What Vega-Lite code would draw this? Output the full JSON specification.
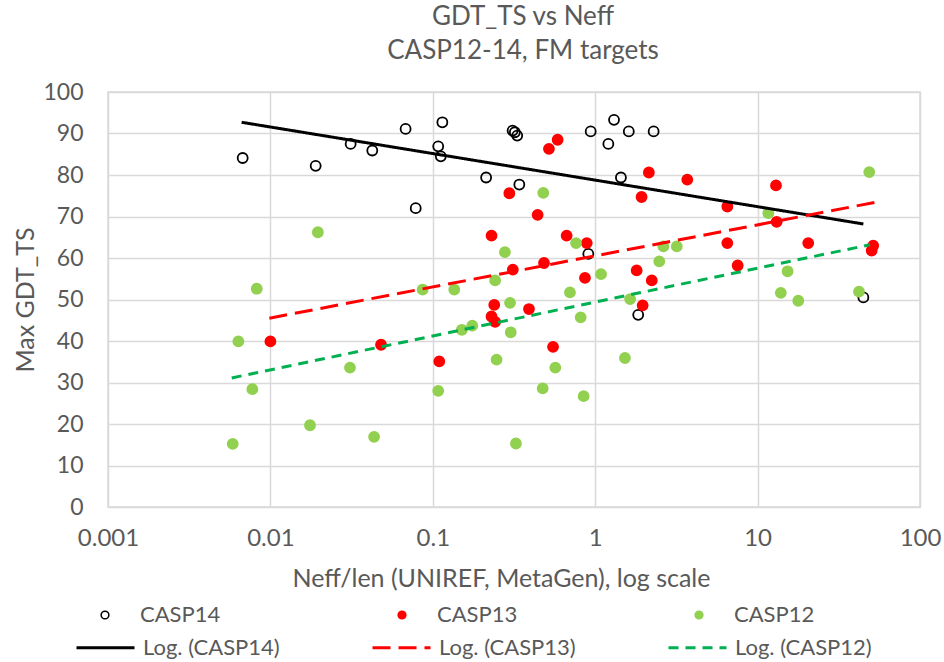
{
  "$schema": "https://vega.github.io/schema/vega-lite/v6.json",
  "width": 812,
  "height": 415,
  "autosize": {"type": "none"},
  "padding": {"left": 108, "top": 92, "right": 24, "bottom": 155},
  "background": "white",
  "config": {
    "font": "Lato",
    "view": {"stroke": "#d9d9d9", "strokeWidth": 1.5},
    "axis": {
      "labelFont": "Lato", "titleFont": "Lato",
      "labelColor": "#595959", "titleColor": "#595959",
      "labelFontSize": 23, "titleFontSize": 25, "titleFontWeight": "normal",
      "domain": false, "ticks": false, "labelFlush": false,
      "gridColor": "#d9d9d9", "gridWidth": 1.5
    },
    "legend": {"labelFont": "Lato", "labelColor": "#595959", "labelFontSize": 22}
  },
  "title": {
    "text": ["GDT_TS vs Neff", "CASP12-14, FM targets"],
    "fontSize": 26, "fontWeight": "normal", "color": "#595959",
    "lineHeight": 34, "offset": 17, "anchor": "middle", "frame": "group", "dx": 9
  },
  "datasets": {
    "pts": [
      {"s": "CASP14", "x": 0.00675, "y": 84.1},
      {"s": "CASP14", "x": 0.019, "y": 82.2},
      {"s": "CASP14", "x": 0.0312, "y": 87.5},
      {"s": "CASP14", "x": 0.0424, "y": 85.9},
      {"s": "CASP14", "x": 0.068, "y": 91.1},
      {"s": "CASP14", "x": 0.1145, "y": 92.7},
      {"s": "CASP14", "x": 0.108, "y": 86.9},
      {"s": "CASP14", "x": 0.112, "y": 84.5},
      {"s": "CASP14", "x": 0.0785, "y": 72.0},
      {"s": "CASP14", "x": 0.213, "y": 79.4},
      {"s": "CASP14", "x": 0.31, "y": 90.7},
      {"s": "CASP14", "x": 0.32, "y": 90.3},
      {"s": "CASP14", "x": 0.331, "y": 89.5},
      {"s": "CASP14", "x": 0.341, "y": 77.7},
      {"s": "CASP14", "x": 0.938, "y": 90.5},
      {"s": "CASP14", "x": 1.306, "y": 93.3},
      {"s": "CASP14", "x": 1.205, "y": 87.5},
      {"s": "CASP14", "x": 1.61, "y": 90.5},
      {"s": "CASP14", "x": 2.29, "y": 90.5},
      {"s": "CASP14", "x": 1.44, "y": 79.4},
      {"s": "CASP14", "x": 0.907, "y": 61.0},
      {"s": "CASP14", "x": 1.84, "y": 46.3},
      {"s": "CASP14", "x": 44.8, "y": 50.5},
      {"s": "CASP13", "x": 0.587, "y": 88.5},
      {"s": "CASP13", "x": 0.519, "y": 86.3},
      {"s": "CASP13", "x": 2.14, "y": 80.6},
      {"s": "CASP13", "x": 3.69, "y": 78.9},
      {"s": "CASP13", "x": 0.296, "y": 75.6},
      {"s": "CASP13", "x": 1.93, "y": 74.7},
      {"s": "CASP13", "x": 0.442, "y": 70.4},
      {"s": "CASP13", "x": 0.23, "y": 65.4},
      {"s": "CASP13", "x": 0.667, "y": 65.4},
      {"s": "CASP13", "x": 0.887, "y": 63.6},
      {"s": "CASP13", "x": 0.484, "y": 58.8},
      {"s": "CASP13", "x": 0.311, "y": 57.2},
      {"s": "CASP13", "x": 1.8, "y": 57.0},
      {"s": "CASP13", "x": 0.865, "y": 55.2},
      {"s": "CASP13", "x": 2.23, "y": 54.6},
      {"s": "CASP13", "x": 6.51, "y": 72.4},
      {"s": "CASP13", "x": 12.98, "y": 77.5},
      {"s": "CASP13", "x": 13.1, "y": 68.7},
      {"s": "CASP13", "x": 6.51, "y": 63.6},
      {"s": "CASP13", "x": 20.5, "y": 63.6},
      {"s": "CASP13", "x": 7.54, "y": 58.2},
      {"s": "CASP13", "x": 51.5, "y": 63.0},
      {"s": "CASP13", "x": 50.4, "y": 61.8},
      {"s": "CASP13", "x": 0.239, "y": 48.7},
      {"s": "CASP13", "x": 0.23, "y": 45.9},
      {"s": "CASP13", "x": 0.242, "y": 44.6},
      {"s": "CASP13", "x": 0.391, "y": 47.7},
      {"s": "CASP13", "x": 0.55, "y": 38.6},
      {"s": "CASP13", "x": 1.96, "y": 48.6},
      {"s": "CASP13", "x": 0.01, "y": 39.9},
      {"s": "CASP13", "x": 0.048, "y": 39.1},
      {"s": "CASP13", "x": 0.1096, "y": 35.1},
      {"s": "CASP12", "x": 0.0196, "y": 66.2},
      {"s": "CASP12", "x": 0.00824, "y": 52.6},
      {"s": "CASP12", "x": 0.0866, "y": 52.4},
      {"s": "CASP12", "x": 0.1356, "y": 52.4},
      {"s": "CASP12", "x": 0.00635, "y": 39.9},
      {"s": "CASP12", "x": 0.00774, "y": 28.4},
      {"s": "CASP12", "x": 0.00586, "y": 15.2},
      {"s": "CASP12", "x": 0.01753, "y": 19.7},
      {"s": "CASP12", "x": 0.0309, "y": 33.6},
      {"s": "CASP12", "x": 0.0435, "y": 16.9},
      {"s": "CASP12", "x": 0.108, "y": 28.0},
      {"s": "CASP12", "x": 0.151, "y": 42.7},
      {"s": "CASP12", "x": 0.175, "y": 43.7},
      {"s": "CASP12", "x": 0.479, "y": 75.7},
      {"s": "CASP12", "x": 0.278, "y": 61.4},
      {"s": "CASP12", "x": 0.762, "y": 63.6},
      {"s": "CASP12", "x": 2.63, "y": 62.8},
      {"s": "CASP12", "x": 3.18, "y": 62.8},
      {"s": "CASP12", "x": 2.48, "y": 59.2},
      {"s": "CASP12", "x": 0.242, "y": 54.6},
      {"s": "CASP12", "x": 1.086, "y": 56.1},
      {"s": "CASP12", "x": 0.699, "y": 51.7},
      {"s": "CASP12", "x": 0.299, "y": 49.2},
      {"s": "CASP12", "x": 0.302, "y": 42.1},
      {"s": "CASP12", "x": 0.247, "y": 35.5},
      {"s": "CASP12", "x": 0.814, "y": 45.7},
      {"s": "CASP12", "x": 0.568, "y": 33.6},
      {"s": "CASP12", "x": 0.475, "y": 28.6},
      {"s": "CASP12", "x": 0.849, "y": 26.7},
      {"s": "CASP12", "x": 0.325, "y": 15.3},
      {"s": "CASP12", "x": 1.525, "y": 35.9},
      {"s": "CASP12", "x": 1.64, "y": 50.1},
      {"s": "CASP12", "x": 48.7, "y": 80.7},
      {"s": "CASP12", "x": 11.64, "y": 70.8},
      {"s": "CASP12", "x": 15.3, "y": 56.8},
      {"s": "CASP12", "x": 13.9, "y": 51.6},
      {"s": "CASP12", "x": 17.8, "y": 49.7},
      {"s": "CASP12", "x": 42.1, "y": 51.9}
    ],
    "trend": [
      {"t": "Log. (CASP14)", "x": 0.00665, "y": 92.7},
      {"t": "Log. (CASP14)", "x": 44.8, "y": 68.2},
      {"t": "Log. (CASP13)", "x": 0.00985, "y": 45.5},
      {"t": "Log. (CASP13)", "x": 52.8, "y": 73.4},
      {"t": "Log. (CASP12)", "x": 0.00578, "y": 31.1},
      {"t": "Log. (CASP12)", "x": 49.2, "y": 63.2}
    ]
  },
  "layer": [
    {
      "data": {"name": "pts"},
      "mark": {"type": "point", "shape": "circle", "size": 100, "strokeWidth": 1.8, "opacity": 1},
      "encoding": {
        "x": {
          "field": "x", "type": "quantitative",
          "scale": {"type": "log", "domain": [0.001, 100], "nice": false},
          "axis": {"values": [0.001, 0.01, 0.1, 1, 10, 100], "format": "~g", "grid": true, "labelFontSize": 24, "labelPadding": 19, "titlePadding": 16, "titleX": 393, "titleAlign": "center"},
          "title": "Neff/len (UNIREF, MetaGen), log scale"
        },
        "y": {
          "field": "y", "type": "quantitative",
          "scale": {"domain": [0, 100], "nice": false},
          "axis": {"values": [0, 10, 20, 30, 40, 50, 60, 70, 80, 90, 100], "grid": true, "labelPadding": 25, "titlePadding": 4},
          "title": "Max GDT_TS"
        },
        "stroke": {
          "field": "s", "type": "nominal",
          "scale": {"domain": ["CASP14", "CASP13", "CASP12"], "range": ["#000000", "#ff0000", "#92d050"]},
          "legend": {"title": null, "orient": "none", "legendX": -14, "legendY": 512, "direction": "horizontal", "columns": 3, "columnPadding": 170, "symbolSize": 60, "symbolStrokeWidth": 1.5, "labelOffset": 24, "padding": 0}
        },
        "fill": {
          "field": "s", "type": "nominal",
          "scale": {"domain": ["CASP14", "CASP13", "CASP12"], "range": ["rgba(255,255,255,0)", "#ff0000", "#92d050"]},
          "legend": {"title": null, "orient": "none", "legendX": -14, "legendY": 512, "direction": "horizontal", "columns": 3, "columnPadding": 170, "symbolSize": 60, "symbolStrokeWidth": 1.5, "labelOffset": 24, "padding": 0}
        }
      }
    },
    {
      "data": {"name": "trend"},
      "mark": {"type": "line", "strokeWidth": 3, "strokeCap": "butt"},
      "encoding": {
        "x": {"field": "x", "type": "quantitative"},
        "y": {"field": "y", "type": "quantitative"},
        "color": {
          "field": "t", "type": "nominal",
          "scale": {"domain": ["Log. (CASP14)", "Log. (CASP13)", "Log. (CASP12)"], "range": ["#000000", "#ff0000", "#00b050"]},
          "legend": {"title": null, "orient": "none", "legendX": -33, "legendY": 525, "direction": "horizontal", "columns": 3, "columnPadding": 86, "symbolType": "stroke", "symbolSize": 3364, "symbolStrokeWidth": 3, "labelOffset": 7, "padding": 0}
        },
        "strokeDash": {
          "field": "t", "type": "nominal",
          "scale": {"domain": ["Log. (CASP14)", "Log. (CASP13)", "Log. (CASP12)"], "range": [[1, 0], [18, 8], [10, 7]]},
          "legend": {"title": null, "orient": "none", "legendX": -33, "legendY": 525, "direction": "horizontal", "columns": 3, "columnPadding": 86, "symbolType": "stroke", "symbolSize": 3364, "symbolStrokeWidth": 3, "labelOffset": 7, "padding": 0}
        }
      }
    }
  ]
}
